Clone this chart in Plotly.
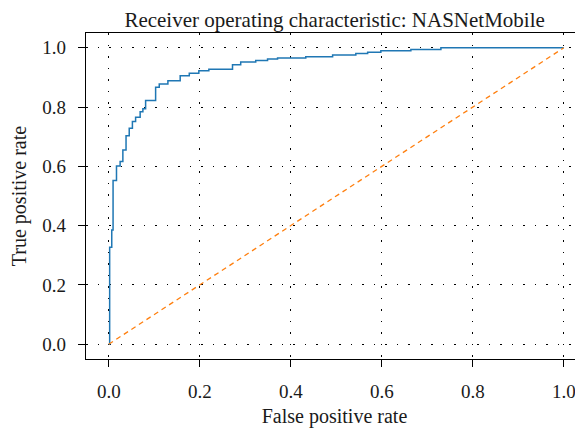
import plotly.graph_objects as go

fpr = [0.0, 0.002, 0.002, 0.0066, 0.0066, 0.0095, 0.0095, 0.017, 0.017, 0.025, 0.025,
       0.031, 0.031, 0.038, 0.038, 0.045, 0.045, 0.052, 0.052, 0.059, 0.059,
       0.069, 0.069, 0.075, 0.075, 0.081, 0.081, 0.103, 0.103, 0.111, 0.111,
       0.130, 0.130, 0.157, 0.157, 0.177, 0.177, 0.198, 0.198, 0.220, 0.220,
       0.272, 0.272, 0.290, 0.290, 0.323, 0.323, 0.349, 0.349, 0.371, 0.371,
       0.433, 0.433, 0.492, 0.492, 0.543, 0.543, 0.569, 0.569, 0.598, 0.598,
       0.664, 0.664, 0.730, 0.730, 1.0]
tpr = [0.0, 0.0, 0.327, 0.327, 0.385, 0.385, 0.552, 0.552, 0.601, 0.601, 0.616,
       0.616, 0.655, 0.655, 0.703, 0.703, 0.729, 0.729, 0.751, 0.751, 0.766,
       0.766, 0.784, 0.784, 0.794, 0.794, 0.822, 0.822, 0.867, 0.867, 0.878,
       0.878, 0.889, 0.889, 0.906, 0.906, 0.914, 0.914, 0.923, 0.923, 0.928,
       0.928, 0.943, 0.943, 0.952, 0.952, 0.957, 0.957, 0.962, 0.962, 0.966,
       0.966, 0.970, 0.970, 0.976, 0.976, 0.981, 0.981, 0.985, 0.985, 0.990,
       0.990, 0.994, 0.994, 1.0, 1.0]
chance = [0.0, 1.0]
tick_vals = [0.0, 0.2, 0.4, 0.6, 0.8, 1.0]
tick_text = ["0.0", "0.2", "0.4", "0.6", "0.8", "1.0"]

FONT = "Liberation Serif"

fig = go.Figure()
fig.add_trace(go.Scatter(x=fpr, y=tpr, mode="lines",
                         line=dict(color="#1f77b4", width=1.5), showlegend=False))
fig.add_trace(go.Scatter(x=chance, y=chance, mode="lines",
                         line=dict(color="#ff7f0e", width=1.3, dash="5px,4px"), showlegend=False))

axis_common = dict(
    tickvals=tick_vals, ticktext=tick_text,
    ticks="outside", ticklen=7, tickwidth=1, tickcolor="black",
    showline=True, linecolor="black", linewidth=1.2, mirror=True,
    showgrid=True, gridcolor="black", gridwidth=1, griddash="1.5px,10px",
    zeroline=False, tickfont=dict(family=FONT, size=19, color="#1a1a1a"),
    ticklabelstandoff=8,
)

fig.update_layout(
    width=575, height=424,
    margin=dict(l=78, r=0, t=25, b=73),
    paper_bgcolor="white", plot_bgcolor="white",
    font=dict(family=FONT, color="#1a1a1a"),
    title=dict(text="Receiver operating characteristic: NASNetMobile",
               x=0.568, xanchor="center", y=0.9717, yanchor="middle",
               font=dict(family=FONT, size=21, color="#1a1a1a")),
    xaxis=dict(range=[-0.05, 1.0423],
               title=dict(text="False positive rate", font=dict(family=FONT, size=20), standoff=8),
               **axis_common),
    yaxis=dict(range=[-0.05, 1.05],
               title=dict(text="True positive rate", font=dict(family=FONT, size=20), standoff=10),
               **axis_common),
)

fig.write_html("out.html")
